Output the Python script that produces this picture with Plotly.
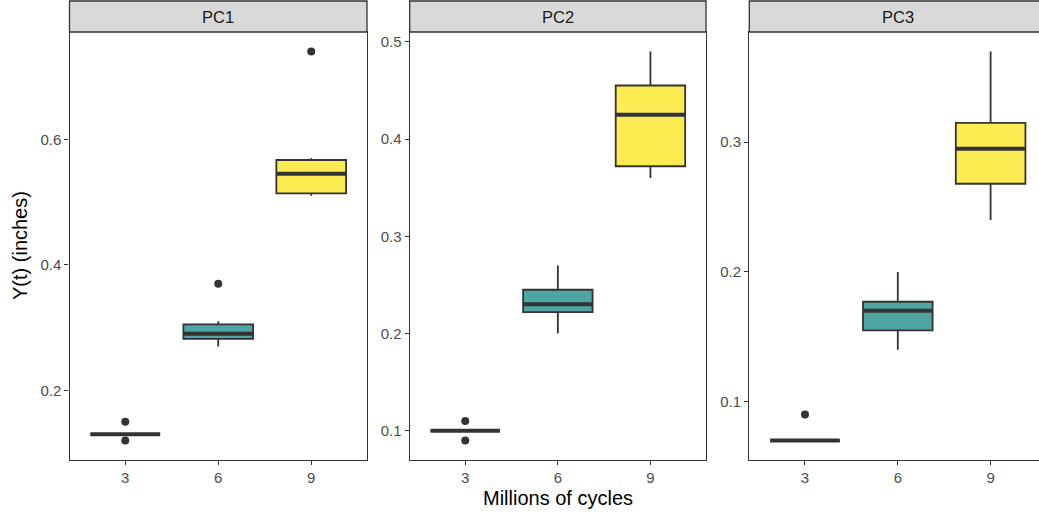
import plotly.graph_objects as go

# ---------------- data ----------------
panels = ["PC1", "PC2", "PC3"]
cycles = ["3", "6", "9"]

pc1_q1 = [0.13, 0.282, 0.514]
pc1_med = [0.13, 0.290, 0.545]
pc1_q3 = [0.13, 0.305, 0.567]
pc1_lo = [0.13, 0.270, 0.510]
pc1_hi = [0.13, 0.310, 0.570]
pc1_out = [[0.12, 0.15], [0.37], [0.74]]

pc2_q1 = [0.10, 0.222, 0.372]
pc2_med = [0.10, 0.230, 0.425]
pc2_q3 = [0.10, 0.245, 0.455]
pc2_lo = [0.10, 0.200, 0.360]
pc2_hi = [0.10, 0.270, 0.490]
pc2_out = [[0.09, 0.11], [], []]

pc3_q1 = [0.07, 0.155, 0.268]
pc3_med = [0.07, 0.170, 0.295]
pc3_q3 = [0.07, 0.177, 0.315]
pc3_lo = [0.07, 0.140, 0.240]
pc3_hi = [0.07, 0.200, 0.370]
pc3_out = [[0.09], [], []]

pc1_ticks = [0.2, 0.4, 0.6]
pc2_ticks = [0.1, 0.2, 0.3, 0.4, 0.5]
pc3_ticks = [0.1, 0.2, 0.3]

fill_colors = ["rgba(68,1,84,0.8)", "rgba(33,144,140,0.8)", "rgba(253,231,37,0.8)"]

# ---------------- layout constants ----------------
W, H = 1039, 514
FONT = "Liberation Sans, Arial, sans-serif"
DARK = "#333333"
panel_px = [(69.5, 367.0), (409.7, 706.0), (749.3, 1046.3)]
top_px, bot_px, strip_top_px = 32.0, 460.0, 1.0
xr_full = (0.4, 3.6)

panel_stats = [
    (pc1_q1, pc1_med, pc1_q3, pc1_lo, pc1_hi, pc1_out, pc1_ticks),
    (pc2_q1, pc2_med, pc2_q3, pc2_lo, pc2_hi, pc2_out, pc2_ticks),
    (pc3_q1, pc3_med, pc3_q3, pc3_lo, pc3_hi, pc3_out, pc3_ticks),
]

fig = go.Figure()
box_w = 0.75
shapes, annotations = [], []

for p, (q1, med, q3, lo, hi, outs, ticks) in enumerate(panel_stats):
    sfx = "" if p == 0 else str(p + 1)
    xa, ya = "x" + sfx, "y" + sfx
    for i in range(len(cycles)):
        pos = i + 1
        fig.add_trace(go.Box(
            x=[pos], q1=[q1[i]], median=[med[i]], q3=[q3[i]],
            lowerfence=[lo[i]], upperfence=[hi[i]],
            width=box_w, whiskerwidth=0, boxpoints=False,
            fillcolor=fill_colors[i], line=dict(color=DARK, width=1.8),
            orientation="v", xaxis=xa, yaxis=ya, showlegend=False, hoverinfo="skip",
        ))
        fig.add_trace(go.Scatter(
            x=[pos - box_w / 2, pos + box_w / 2], y=[med[i], med[i]],
            mode="lines", line=dict(color=DARK, width=4),
            xaxis=xa, yaxis=ya, showlegend=False, hoverinfo="skip",
        ))
        if outs[i]:
            fig.add_trace(go.Scatter(
                x=[pos] * len(outs[i]), y=outs[i], mode="markers",
                marker=dict(color=DARK, size=8),
                xaxis=xa, yaxis=ya, showlegend=False, hoverinfo="skip",
            ))

    # y range with ggplot 5% expansion
    allv = lo + hi + [v for o in outs for v in o]
    vmin, vmax = min(allv), max(allv)
    pad = (vmax - vmin) * 0.05
    yr = [vmin - pad, vmax + pad]

    x0, x1 = panel_px[p]
    ppu = (x1 - x0) / (xr_full[1] - xr_full[0])
    x1c = min(x1, W)
    xr = [xr_full[0], xr_full[0] + (x1c - x0) / ppu]

    axis_common = dict(
        showgrid=False, zeroline=False, showline=True, linecolor=DARK, linewidth=1.3,
        ticks="outside", ticklen=4, tickwidth=1.3, tickcolor=DARK,
        tickfont=dict(family=FONT, size=15, color="#4D4D4D"),
    )
    fig.update_layout(**{
        "xaxis" + sfx: dict(
            domain=[x0 / W, x1c / W], range=xr, anchor=ya,
            tickvals=[1, 2, 3], ticktext=cycles, mirror=True, **axis_common),
        "yaxis" + sfx: dict(
            domain=[1 - bot_px / H, 1 - top_px / H], range=yr, anchor=xa,
            tickvals=ticks, ticktext=[f"{t:.1f}" for t in ticks],
            mirror=(x1 <= W), **axis_common),
    })

    shapes.append(dict(
        type="rect", xref="paper", yref="paper",
        x0=x0 / W, x1=x1 / W, y0=1 - top_px / H, y1=1 - strip_top_px / H,
        fillcolor="#D9D9D9", line=dict(color=DARK, width=1.3), layer="above",
    ))
    annotations.append(dict(
        text=panels[p], xref="paper", yref="paper",
        x=((x0 + x1) / 2) / W, y=1 - ((top_px + strip_top_px) / 2) / H,
        showarrow=False, xanchor="center", yanchor="middle",
        font=dict(family=FONT, size=16.5, color="#1A1A1A"),
    ))

annotations.append(dict(
    text="Y(t) (inches)", xref="paper", yref="paper",
    x=20 / W, y=1 - ((top_px + bot_px) / 2) / H, textangle=-90,
    showarrow=False, xanchor="center", yanchor="middle",
    font=dict(family=FONT, size=20, color="black"),
))
annotations.append(dict(
    text="Millions of cycles", xref="paper", yref="paper",
    x=((panel_px[0][0] + panel_px[2][1]) / 2) / W, y=1 - 498 / H,
    showarrow=False, xanchor="center", yanchor="middle",
    font=dict(family=FONT, size=20, color="black"),
))

fig.update_layout(
    width=W, height=H, autosize=False,
    margin=dict(l=0, r=0, t=0, b=0, pad=0),
    paper_bgcolor="white", plot_bgcolor="white",
    shapes=shapes, annotations=annotations, showlegend=False,
)

fig.write_html("out.html")
